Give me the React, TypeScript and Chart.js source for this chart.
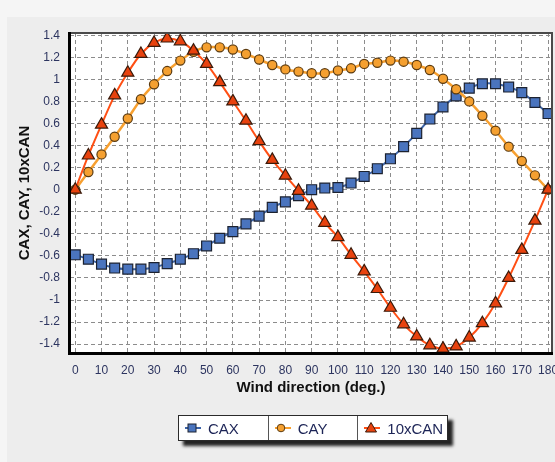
import React, { useEffect, useRef } from "react";
import { Chart, registerables } from "chart.js";

Chart.register(...registerables);

// ---- data ----
const angles = [0, 5, 10, 15, 20, 25, 30, 35, 40, 45, 50, 55, 60, 65, 70, 75, 80, 85, 90, 95, 100, 105, 110, 115, 120, 125, 130, 135, 140, 145, 150, 155, 160, 165, 170, 175, 180];

const caxValues = [-0.59, -0.63, -0.675, -0.71, -0.72, -0.72, -0.705, -0.67, -0.63, -0.58, -0.51, -0.44, -0.38, -0.31, -0.24, -0.16, -0.11, -0.055, 0.0, 0.015, 0.02, 0.06, 0.12, 0.19, 0.28, 0.39, 0.51, 0.64, 0.75, 0.85, 0.92, 0.96, 0.96, 0.93, 0.88, 0.79, 0.69];

const cayValues = [0, 0.16, 0.32, 0.48, 0.645, 0.82, 0.955, 1.075, 1.17, 1.25, 1.29, 1.29, 1.27, 1.23, 1.18, 1.13, 1.09, 1.07, 1.055, 1.055, 1.08, 1.1, 1.14, 1.15, 1.17, 1.16, 1.13, 1.085, 1.005, 0.91, 0.8, 0.67, 0.535, 0.39, 0.26, 0.13, 0];

const can10Values = [0, 0.31, 0.59, 0.855, 1.06, 1.23, 1.33, 1.37, 1.345, 1.26, 1.14, 0.975, 0.8, 0.625, 0.44, 0.27, 0.127, -0.01, -0.145, -0.3, -0.43, -0.59, -0.74, -0.9, -1.07, -1.22, -1.33, -1.41, -1.44, -1.42, -1.34, -1.21, -1.03, -0.8, -0.545, -0.28, 0];

const seriesNames = ["CAX", "CAY", "10xCAN"];
const xAxisTitle = "Wind direction (deg.)";
const yAxisTitle = "CAX, CAY, 10xCAN";

const xRange = { min: -2, max: 181.5, step: 10 };
const yRange = { min: -1.48, max: 1.42, step: 0.2 };

const FONT = "'Liberation Sans', Arial, Helvetica, sans-serif";
const TICK_COLOR = "#2d3560";

const toPoints = (vals: number[]) => angles.map((a, i) => ({ x: a, y: vals[i] }));

const plotBg = {
  id: "plotBg",
  beforeDraw(chart: any) {
    const { ctx, chartArea: a } = chart;
    ctx.save();
    ctx.fillStyle = "#ffffff";
    ctx.fillRect(a.left, a.top, a.right - a.left, a.bottom - a.top);
    ctx.restore();
  },
};

const frame = {
  id: "frame",
  afterDraw(chart: any) {
    const { ctx, chartArea: a } = chart;
    ctx.save();
    ctx.strokeStyle = "#4a4a4a";
    ctx.lineWidth = 2;
    ctx.strokeRect(a.left, a.top, a.right - a.left, a.bottom - a.top);
    ctx.strokeStyle = "#000000";
    ctx.lineWidth = 3;
    ctx.beginPath();
    ctx.moveTo(a.left - 0.5, a.top - 1);
    ctx.lineTo(a.left - 0.5, a.bottom + 0.5);
    ctx.lineTo(a.right + 1, a.bottom + 0.5);
    ctx.stroke();
    ctx.restore();
  },
};

function LegendMarker({ kind }: { kind: number }) {
  const line = ["#3d64a8", "#f7a030", "#ff4f14"][kind];
  return (
    <svg width={16} height={14} style={{ display: "block", flex: "none" }}>
      <line x1={0} y1={7} x2={16} y2={7} stroke={line} strokeWidth={2} />
      {kind === 0 && <rect x={3} y={3} width={8} height={8} fill="#4a74be" stroke="#1c2230" strokeWidth={1} />}
      {kind === 1 && <circle cx={6} cy={7} r={3.8} fill="#f5a030" stroke="#5a3a10" strokeWidth={1} />}
      {kind === 2 && <polygon points="7,1.5 12.5,11 1.5,11" fill="#e8420e" stroke="#3a1a0a" strokeWidth={1} />}
    </svg>
  );
}

export default function App() {
  const canvasRef = useRef<HTMLCanvasElement>(null);

  useEffect(() => {
    const prev = document.body.style.margin;
    document.body.style.margin = "0";
    const canvas = canvasRef.current!;
    const chart = new Chart(canvas, {
      type: "line",
      data: {
        datasets: [
          {
            label: seriesNames[0],
            data: toPoints(caxValues),
            borderColor: "#3d64a8",
            borderWidth: 2,
            pointStyle: "rect",
            pointRadius: 7,
            pointBackgroundColor: "#4a74be",
            pointBorderColor: "#1c2230",
            pointBorderWidth: 1.2,
            tension: 0.3,
            order: 3,
          },
          {
            label: seriesNames[1],
            data: toPoints(cayValues),
            borderColor: "#f7a030",
            borderWidth: 2.5,
            pointStyle: "circle",
            pointRadius: 4.6,
            pointBackgroundColor: "#f5a030",
            pointBorderColor: "#5a3a10",
            pointBorderWidth: 1.2,
            tension: 0.3,
            order: 2,
          },
          {
            label: seriesNames[2],
            data: toPoints(can10Values),
            borderColor: "#ff4f14",
            borderWidth: 2,
            pointStyle: "triangle",
            pointRadius: 7,
            pointBackgroundColor: "#e8420e",
            pointBorderColor: "#3a1a0a",
            pointBorderWidth: 1.2,
            tension: 0.3,
            order: 1,
          },
        ],
      },
      options: {
        animation: false,
        responsive: false,
        devicePixelRatio: 1,
        events: [],
        layout: { padding: { left: 0, top: 33, right: 23, bottom: 47 } },
        plugins: {
          legend: { display: false },
          tooltip: { enabled: false },
        },
        scales: {
          x: {
            type: "linear",
            min: xRange.min,
            max: xRange.max,
            afterFit: (s: any) => {
              s.height = 62;
            },
            ticks: {
              stepSize: xRange.step,
              includeBounds: false,
              padding: 10,
              color: TICK_COLOR,
              font: { family: FONT, size: 12 },
              maxRotation: 0,
              autoSkip: false,
            },
            grid: { color: "#8c8c8c", lineWidth: 1, drawTicks: false },
            border: { display: false, dash: [4, 3] },
            title: {
              display: true,
              text: xAxisTitle,
              color: "#111111",
              font: { family: FONT, size: 15, weight: "bold" },
              padding: { top: 0, bottom: 18 },
            },
          },
          y: {
            type: "linear",
            min: yRange.min,
            max: yRange.max,
            afterFit: (s: any) => {
              s.width = 70;
            },
            ticks: {
              stepSize: yRange.step,
              includeBounds: false,
              padding: 10,
              color: TICK_COLOR,
              font: { family: FONT, size: 12 },
              autoSkip: false,
              callback: (v: any) => String(Number(Number(v).toFixed(1))),
            },
            grid: { color: "#8c8c8c", lineWidth: 1, drawTicks: false },
            border: { display: false, dash: [4, 3] },
            title: {
              display: true,
              text: yAxisTitle,
              color: "#111111",
              font: { family: FONT, size: 15, weight: "bold" },
              padding: { top: 16, bottom: 16 },
            },
          },
        },
      },
      plugins: [plotBg, frame],
    });
    return () => {
      chart.destroy();
      document.body.style.margin = prev;
    };
  }, []);

  const cellStyle = (last: boolean): React.CSSProperties => ({
    flex: 1,
    display: "flex",
    alignItems: "center",
    paddingLeft: 6,
    gap: 7,
    borderRight: last ? "none" : "1px solid #555",
    fontFamily: FONT,
    fontSize: 15,
    color: "#1c2456",
  });

  return (
    <div style={{ position: "fixed", left: 0, top: 0, width: 555, height: 462, overflow: "hidden", background: "#f5f5f5" }}>
      <div style={{ position: "absolute", left: 7, top: 17, right: 0, bottom: 0, background: "#ededed" }} />
      <div style={{ position: "absolute", left: 0, top: 0, width: 575, height: 462 }}>
        <canvas ref={canvasRef} width={575} height={462} style={{ width: 575, height: 462, display: "block" }} />
      </div>
      <div
        style={{
          position: "absolute",
          left: 178,
          top: 415,
          width: 270,
          height: 26,
          boxSizing: "border-box",
          background: "#ffffff",
          border: "1px solid #2a2a2a",
          boxShadow: "5px 5px 3px rgba(0,0,0,0.85)",
          display: "flex",
        }}
      >
        {seriesNames.map((n, i) => (
          <div key={n} style={cellStyle(i === seriesNames.length - 1)}>
            <LegendMarker kind={i} />
            <span>{n}</span>
          </div>
        ))}
      </div>
    </div>
  );
}
